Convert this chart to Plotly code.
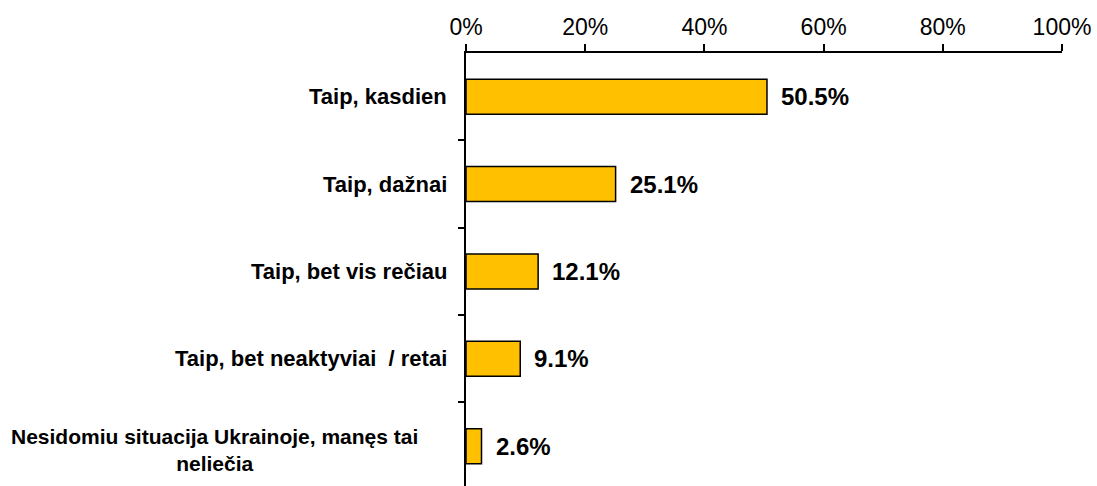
import plotly.graph_objects as go

# Survey answers (top to bottom) and their shares in percent
categories = [
    "Taip, kasdien",
    "Taip, dažnai",
    "Taip, bet vis rečiau",
    "Taip, bet neaktyviai  / retai",
    "Nesidomiu situacija Ukrainoje, manęs tai<br>neliečia",
]
shares = [50.5, 25.1, 12.1, 9.1, 2.6]
x_ticks = [0, 20, 40, 60, 80, 100]
x_tick_labels = [f"{v}%" for v in x_ticks]

FONT = "Liberation Sans, Arial, sans-serif"
BAR_COLOR = "#FFC000"

fig = go.Figure()
fig.add_trace(
    go.Bar(
        x=shares,
        y=list(range(len(categories))),
        orientation="h",
        marker=dict(color=BAR_COLOR, line=dict(color="black", width=1.5)),
        width=0.4,
        hoverinfo="skip",
    )
)

annotations = []
# value labels to the right of each bar
for i, v in enumerate(shares):
    annotations.append(
        dict(
            x=v, y=i, xref="x", yref="y",
            text=f"<b>{v:.1f}%</b>",
            showarrow=False, xanchor="left", yanchor="middle",
            xshift=12,
            font=dict(family=FONT, size=24, color="black"),
        )
    )

# category labels on the left of the axis
for i, name in enumerate(categories):
    if "<br>" in name:
        annotations.append(
            dict(
                x=-0.4228, y=i, xref="paper", yref="y",
                text=f"<b>{name}</b>",
                showarrow=False, xanchor="center", yanchor="middle",
                align="center", yshift=-4,
                font=dict(family=FONT, size=21, color="black"),
            )
        )
    else:
        annotations.append(
            dict(
                x=0, y=i, xref="paper", yref="y",
                text=f"<b>{name}</b>",
                showarrow=False, xanchor="right", yanchor="middle",
                xshift=-17,
                font=dict(family=FONT, size=22, color="black"),
            )
        )

fig.update_layout(
    width=1097,
    height=486,
    margin=dict(l=466, r=35, t=53, b=0),
    paper_bgcolor="white",
    plot_bgcolor="white",
    showlegend=False,
    annotations=annotations,
    xaxis=dict(
        side="top",
        range=[0, 100],
        tickvals=x_ticks,
        ticktext=x_tick_labels,
        ticks="outside",
        ticklen=7,
        tickwidth=1.5,
        tickcolor="black",
        showline=True,
        linecolor="black",
        linewidth=1.5,
        showgrid=False,
        zeroline=False,
        tickfont=dict(family=FONT, size=23, color="black"),
    ),
    yaxis=dict(
        range=[4.456, -0.5],
        tickvals=[0.5, 1.5, 2.5, 3.5],
        ticktext=["", "", "", ""],
        ticks="outside",
        ticklen=6,
        tickwidth=1.5,
        tickcolor="black",
        showline=True,
        linecolor="black",
        linewidth=1.5,
        showgrid=False,
        zeroline=False,
    ),
)

fig.write_html("out.html")
